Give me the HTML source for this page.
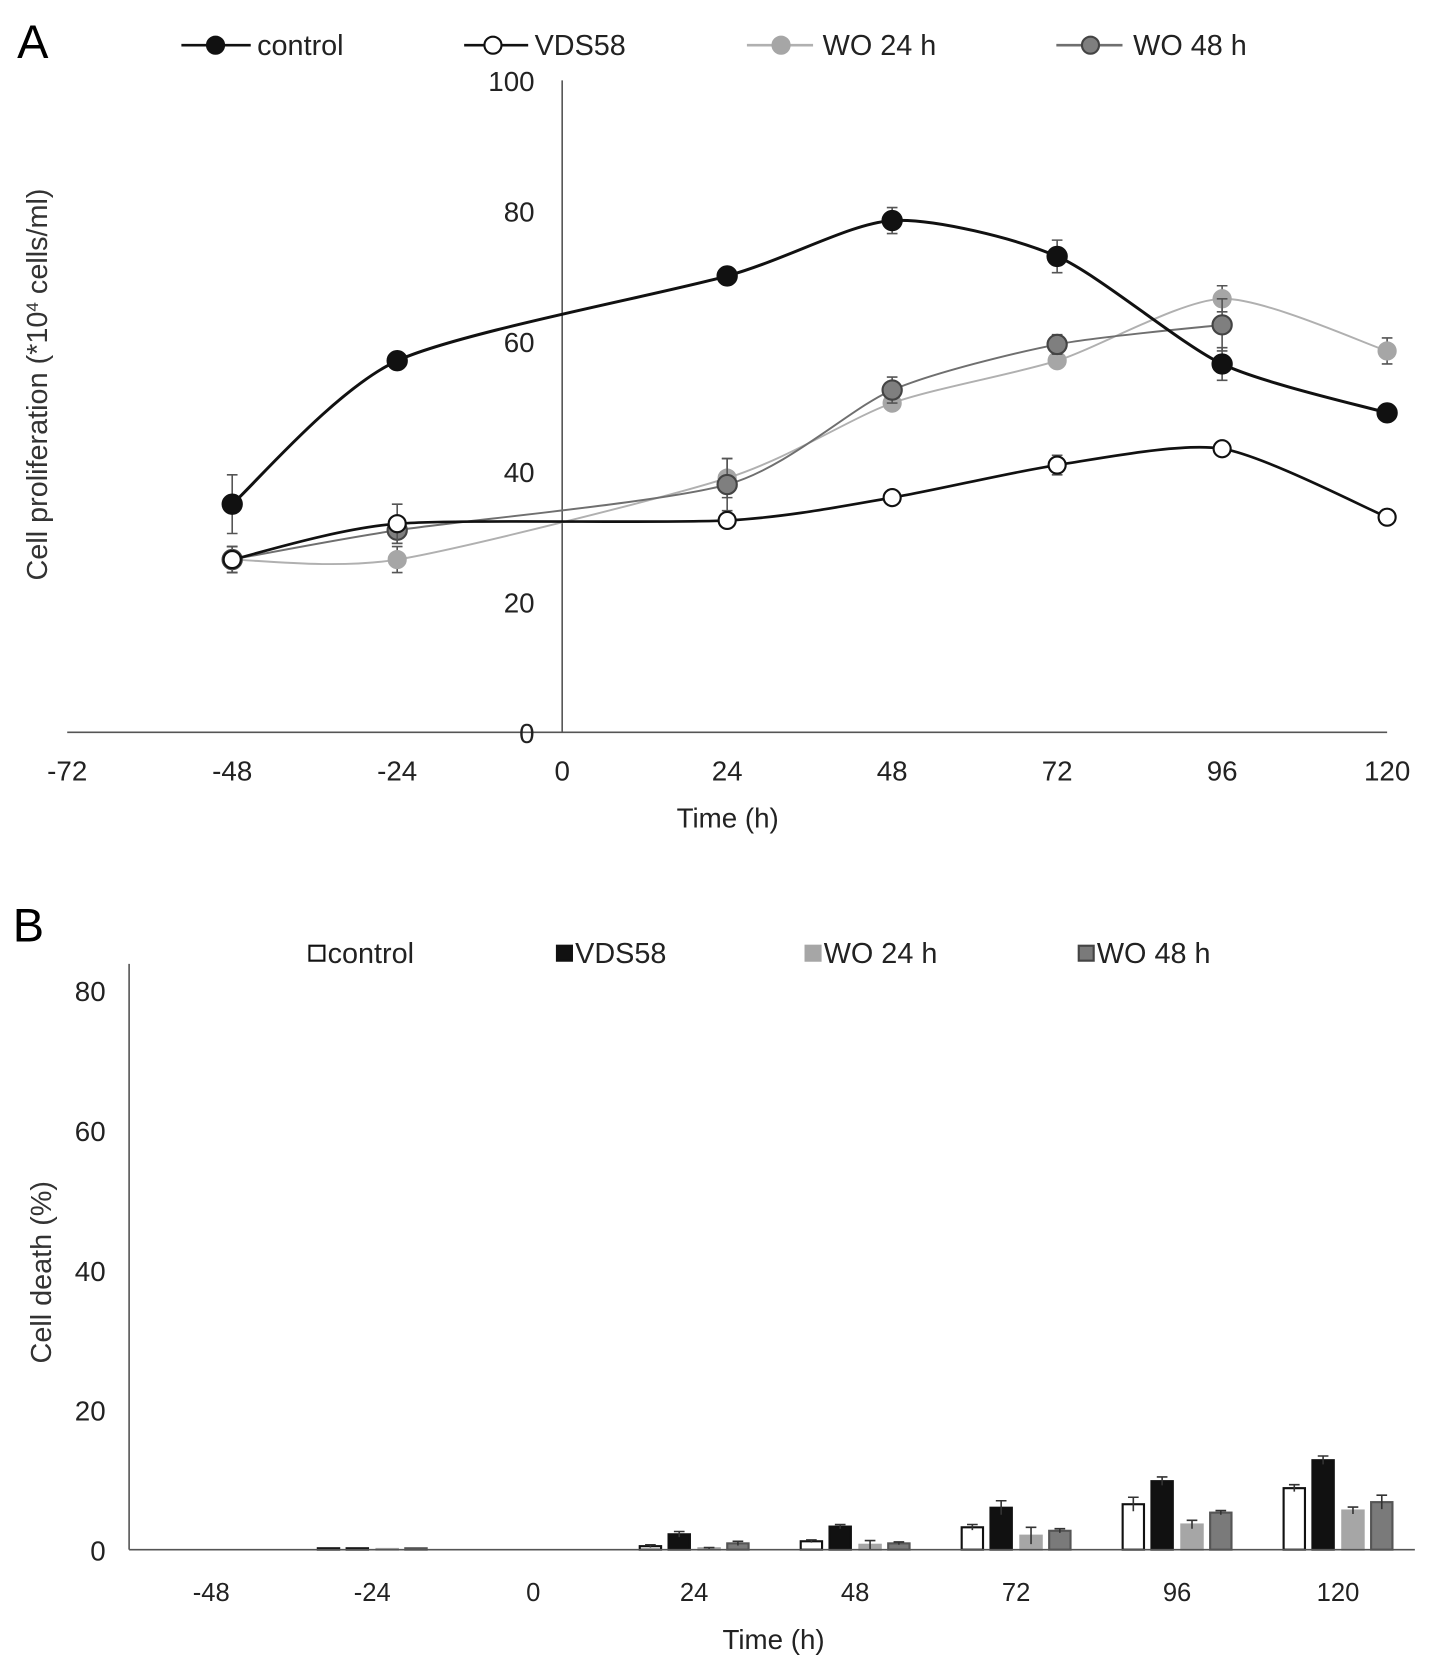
<!DOCTYPE html>
<html><head><meta charset="utf-8"><style>
html,body{margin:0;padding:0;background:#fff;}
svg{display:block;font-family:"Liberation Sans",sans-serif;}
</style></head><body>
<svg id="fig" width="1441" height="1677" viewBox="0 0 1350.5 1571">
<text x="16" y="54" font-size="44">A</text>
<text x="12" y="882" font-size="44">B</text>
<g id="gA"></g>
<g id="gB"></g>
</svg>
<script>
// ---- Panel A data ----
const timesA = [-48, -24, 24, 48, 72, 96, 120];
const xTicksA = [-72, -48, -24, 0, 24, 48, 72, 96, 120];
const yTicksA = [0, 20, 40, 60, 80, 100];
const controlA = [35, 57, 70, 78.5, 73, 56.5, 49];
const controlErr = [4.5, 1, 0.5, 2, 2.5, 2.5, 0.5];
const vdsA = [26.5, 32, 32.5, 36, 41, 43.5, 33];
const vdsErr = [2, 3, 0.5, 0.5, 1.5, 0.5, 0.5];
const wo24A = [26.5, 26.5, 39, 50.5, 57, 66.5, 58.5];
const wo24Err = [2, 2, 3, 1, 1, 2, 2];
const wo48A = [26.5, 31, 38, 52.5, 59.5, 62.5, null];
const wo48Err = [2, 2, 4, 2, 1.5, 4, 0];
// ---- Panel B data ----
const catsB = ["-48", "-24", "0", "24", "48", "72", "96", "120"];
const yTicksB = [0, 20, 40, 60, 80];
const ctrlB = [0, 0.2, 0, 0.5, 1.2, 3.2, 6.5, 8.8];
const vdsB = [0, 0.2, 0, 2.2, 3.3, 6, 9.8, 12.8];
const wo24B = [0, 0.1, 0, 0.2, 0.7, 2, 3.6, 5.6];
const wo48B = [0, 0.2, 0, 0.9, 0.9, 2.7, 5.3, 6.8];
const ctrlBErr = [0, 0, 0, 0.2, 0.2, 0.4, 1, 0.5];
const vdsBErr = [0, 0, 0, 0.4, 0.3, 1, 0.6, 0.6];
const wo24BErr = [0, 0, 0, 0.1, 0.6, 1.2, 0.6, 0.5];
const wo48BErr = [0, 0, 0, 0.3, 0.2, 0.3, 0.3, 1];

const NS = "http://www.w3.org/2000/svg";
function mk(parent, tag, attrs, text) {
  const e = document.createElementNS(NS, tag);
  for (const k in attrs) e.setAttribute(k, attrs[k]);
  if (text !== undefined) e.textContent = text;
  parent.appendChild(e);
  return e;
}
const xA = t => 63 + (t + 72) * (1300 - 63) / 192;
const yA = v => 686 - v * (686 - 75) / 100;
const gA = document.getElementById('gA');
let e;
e = mk(gA, 'line', {x1: 63, y1: yA(0), x2: 1300, y2: yA(0), stroke: '#555', 'stroke-width': 1.5});
 
e = mk(gA, 'line', {x1: xA(0), y1: yA(100), x2: xA(0), y2: yA(0), stroke: '#555', 'stroke-width': 1.5});
 
yTicksA.forEach(v => {
  e = mk(gA, 'text', {x: 501, y: yA(v) + 10, 'font-size': 26, 'text-anchor': 'end', fill: '#222'}, String(v));
   
});
xTicksA.forEach(t => {
  e = mk(gA, 'text', {x: xA(t), y: 731, 'font-size': 26, 'text-anchor': 'middle', fill: '#222'}, String(t));
   
});
e = mk(gA, 'text', {x: 682, y: 775, 'font-size': 26, 'text-anchor': 'middle', fill: '#222'}, 'Time (h)');
 
e = mk(gA, 'text', {x: 0, y: 0, 'font-size': 27, 'text-anchor': 'middle', fill: '#333', transform: 'translate(44,360) rotate(-90)'});
e.innerHTML = 'Cell proliferation (*10<tspan baseline-shift="super" font-size="16">4</tspan> cells/ml)';
 

function smoothPath(pts) {
  let d = `M${pts[0][0]},${pts[0][1]}`;
  const k = 8;
  for (let i = 0; i < pts.length - 1; i++) {
    const p0 = pts[i - 1] || pts[i], p1 = pts[i], p2 = pts[i + 1], p3 = pts[i + 2] || p2;
    const c1 = [p1[0] + (p2[0] - p0[0]) / k, p1[1] + (p2[1] - p0[1]) / k];
    const c2 = [p2[0] - (p3[0] - p1[0]) / k, p2[1] - (p3[1] - p1[1]) / k];
    d += ` C${c1[0]},${c1[1]} ${c2[0]},${c2[1]} ${p2[0]},${p2[1]}`;
  }
  return d;
}
const seriesA = [
  {name: 'wo24', vals: wo24A, err: wo24Err, line: '#b0b0b0', lw: 1.8, fill: '#a6a6a6', stroke: '#a6a6a6', r: 8},
  {name: 'wo48', vals: wo48A, err: wo48Err, line: '#6f6f6f', lw: 1.8, fill: '#7f7f7f', stroke: '#444', r: 9},
  {name: 'vds58', vals: vdsA, err: vdsErr, line: '#111', lw: 2.5, fill: '#fff', stroke: '#111', r: 8},
  {name: 'control', vals: controlA, err: controlErr, line: '#111', lw: 2.8, fill: '#111', stroke: '#111', r: 9}
];
seriesA.forEach(s => {
  const pts = [];
  s.vals.forEach((v, i) => { if (v !== null) pts.push([xA(timesA[i]), yA(v)]); });
  e = mk(gA, 'path', {d: smoothPath(pts), fill: 'none', stroke: s.line, 'stroke-width': s.lw});
   
  s.vals.forEach((v, i) => {
    if (v === null) return;
    const x = xA(timesA[i]), er = s.err[i];
    if (er > 0.6) {
      e = mk(gA, 'path', {d: `M${x},${yA(v - er)}V${yA(v + er)}M${x - 5},${yA(v - er)}H${x + 5}M${x - 5},${yA(v + er)}H${x + 5}`, stroke: '#555', 'stroke-width': 1.5, fill: 'none'});
       
    }
    e = mk(gA, 'circle', {cx: x, cy: yA(v), r: s.r, fill: s.fill, stroke: s.stroke, 'stroke-width': 2});
     
  });
});
const legA = [
  {label: 'control', x1: 170, x2: 235, mx: 202, tx: 241, line: '#111', fill: '#111', stroke: '#111'},
  {label: 'VDS58', x1: 435, x2: 495, mx: 462, tx: 501, line: '#111', fill: '#fff', stroke: '#111'},
  {label: 'WO 24 h', x1: 700, x2: 762, mx: 732, tx: 771, line: '#b0b0b0', fill: '#a6a6a6', stroke: '#a6a6a6'},
  {label: 'WO 48 h', x1: 990, x2: 1052, mx: 1022, tx: 1062, line: '#6f6f6f', fill: '#7f7f7f', stroke: '#444'}
];
legA.forEach(l => {
  const g = mk(gA, 'g', {});
   
  mk(g, 'line', {x1: l.x1, y1: 42, x2: l.x2, y2: 42, stroke: l.line, 'stroke-width': 2.5});
  mk(g, 'circle', {cx: l.mx, cy: 42, r: 8, fill: l.fill, stroke: l.stroke, 'stroke-width': 2});
  mk(g, 'text', {x: l.tx, y: 51, 'font-size': 27, fill: '#222'}, l.label);
});

const gB = document.getElementById('gB');
const xB = i => 198 + i * (1254 - 198) / 7;
const yB = v => 1452 - v * (1452 - 928) / 80;
e = mk(gB, 'line', {x1: 121, y1: 903, x2: 121, y2: yB(0), stroke: '#555', 'stroke-width': 1.5});
 
yTicksB.forEach(v => {
  e = mk(gB, 'text', {x: 99, y: yB(v) + 10, 'font-size': 26, 'text-anchor': 'end', fill: '#222'}, String(v));
   
});
catsB.forEach((c, i) => {
  e = mk(gB, 'text', {x: xB(i), y: 1500, 'font-size': 24, 'text-anchor': 'middle', fill: '#222'}, c);
   
});
e = mk(gB, 'text', {x: 725, y: 1545, 'font-size': 26, 'text-anchor': 'middle', fill: '#222'}, 'Time (h)');
 
e = mk(gB, 'text', {x: 0, y: 0, 'font-size': 27, 'text-anchor': 'middle', fill: '#333', transform: 'translate(48,1192) rotate(-90)'}, 'Cell death (%)');
 
const seriesB = [
  {name: 'control', vals: ctrlB, err: ctrlBErr, off: -41, fill: '#fff', stroke: '#111'},
  {name: 'vds58', vals: vdsB, err: vdsBErr, off: -14, fill: '#111', stroke: '#111'},
  {name: 'wo24', vals: wo24B, err: wo24BErr, off: 14, fill: '#a6a6a6', stroke: '#a6a6a6'},
  {name: 'wo48', vals: wo48B, err: wo48BErr, off: 41, fill: '#7a7a7a', stroke: '#555'}
];
seriesB.forEach(s => {
  s.vals.forEach((v, i) => {
    const cx = xB(i) + s.off, w = 20;
    if (v > 0) {
      e = mk(gB, 'rect', {x: cx - w / 2, y: yB(v), width: w, height: yB(0) - yB(v), fill: s.fill, stroke: s.stroke, 'stroke-width': 2});
       
    }
    const er = s.err[i];
    if (er > 0) {
      e = mk(gB, 'path', {d: `M${cx},${yB(v - er)}V${yB(v + er)}M${cx - 5},${yB(v + er)}H${cx + 5}`, stroke: '#333', 'stroke-width': 1.5, fill: 'none'});
       
    }
  });
});
e = mk(gB, 'line', {x1: 121, y1: yB(0), x2: 1326, y2: yB(0), stroke: '#555', 'stroke-width': 1.5});
 
const legB = [
  {label: 'control', x: 290, fill: '#fff', stroke: '#111'},
  {label: 'VDS58', x: 522, fill: '#111', stroke: '#111'},
  {label: 'WO 24 h', x: 755, fill: '#a6a6a6', stroke: '#a6a6a6'},
  {label: 'WO 48 h', x: 1011, fill: '#7a7a7a', stroke: '#444'}
];
legB.forEach(l => {
  const g = mk(gB, 'g', {});
   
  mk(g, 'rect', {x: l.x, y: 886, width: 14, height: 14, fill: l.fill, stroke: l.stroke, 'stroke-width': 2});
  mk(g, 'text', {x: l.x + 17, y: 902, 'font-size': 27, fill: '#222'}, l.label);
});
</script>
</body></html>
